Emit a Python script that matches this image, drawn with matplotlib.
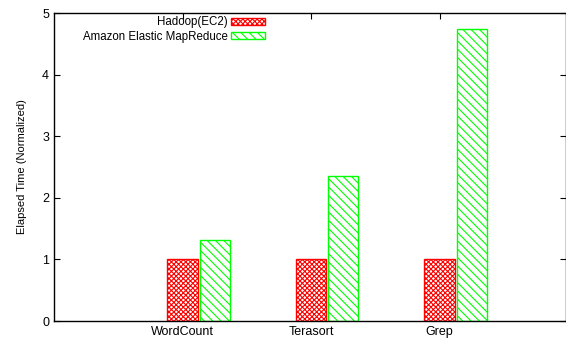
import numpy as np
import matplotlib; matplotlib.use("Agg")
import matplotlib.pyplot as plt
from matplotlib.patches import Patch

categories = ["WordCount", "Terasort", "Grep"]
hadoop_ec2 = [1.0, 1.0, 1.0]
amazon_emr = [1.31, 2.35, 4.74]
series_labels = ["Hadoop(EC2)", "Amazon Elastic MapReduce"]

plt.rcParams["font.family"] = ["Liberation Sans", "DejaVu Sans"]
plt.rcParams["hatch.linewidth"] = 0.8

RED_HATCH, GREEN_HATCH = "xxxxxxx", "\\\\\\\\"

fig = plt.figure(figsize=(5.66, 3.39), dpi=100)
ax = fig.add_axes([54/566, 1 - 321/339, 511.5/566, 308/339])

x = np.arange(len(categories))
w = 0.235
ax.bar(x, hadoop_ec2, w, facecolor="white", edgecolor="red", hatch=RED_HATCH, lw=1.0)
ax.bar(x + w + 0.015, amazon_emr, w, facecolor="white", edgecolor="#00ff00", hatch=GREEN_HATCH, lw=1.0)

ax.set_xlim(-1, 2.98)
ax.set_ylim(0, 5)
ax.set_xticks(x)
ax.set_xticklabels(categories, fontsize=9)
ax.set_yticks(range(6))
ax.tick_params(axis="both", direction="in", top=True, right=True, length=4, width=0.8, labelsize=9)
ax.tick_params(axis="x", top=True, bottom=False)
ax.set_ylabel("Elapsed Time (Normalized)", fontsize=8, labelpad=11)
for s in ax.spines.values():
    s.set_linewidth(1.0)

handles = [Patch(facecolor="white", edgecolor="red", hatch=RED_HATCH, lw=1.0),
           Patch(facecolor="white", edgecolor="#00ff00", hatch=GREEN_HATCH, lw=1.0)]
ax.legend(handles, series_labels, loc="upper left", bbox_to_anchor=(0.04, 1.015),
          frameon=False, markerfirst=False, fontsize=8.3, handlelength=3.0, handleheight=0.55,
          handletextpad=0.3, labelspacing=0.2, borderpad=0.2, alignment="right")

fig.savefig("out.png", dpi=100)
